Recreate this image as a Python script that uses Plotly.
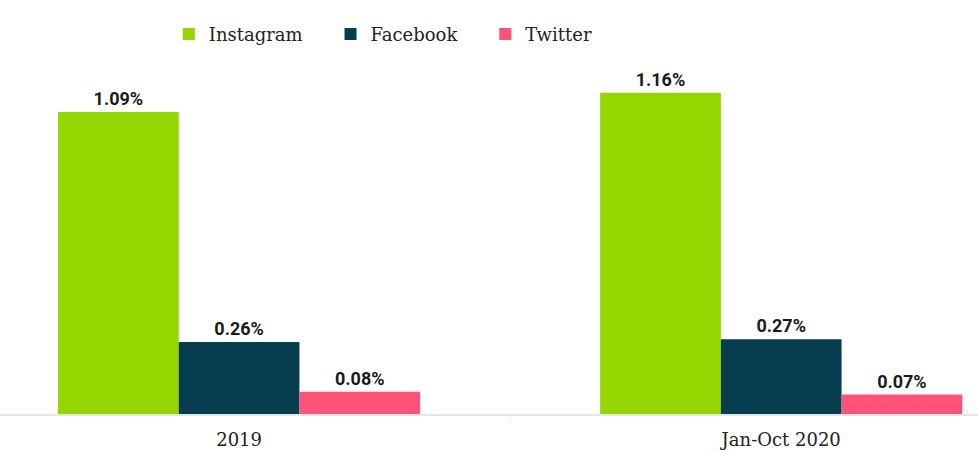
import plotly.graph_objects as go

categories = ["2019", "Jan-Oct 2020"]
instagram = [1.09, 1.16]
facebook = [0.26, 0.27]
twitter = [0.08, 0.07]

series = [("Instagram", instagram, "#96D600"),
          ("Facebook", facebook, "#063D4F"),
          ("Twitter", twitter, "#FF5478")]

fig = go.Figure()
for name, vals, col in series:
    fig.add_trace(go.Bar(
        x=categories, y=vals, name=name + "\u00a0" * 4, marker_color=col, marker_line_width=0,
        texttemplate="%{y:.2f}%", textposition="outside", cliponaxis=False,
        textfont=dict(family="Roboto", size=18, color="#1a1a1a", weight="bold"),
    ))

fig.update_layout(
    width=978, height=450,
    margin=dict(l=0, r=0, t=60, b=36, autoexpand=False),
    paper_bgcolor="white", plot_bgcolor="white",
    barmode="group", bargap=0.332, bargroupgap=0,
    legend=dict(orientation="h", x=0.1726, xanchor="left", yref="container",
                y=0.924, yanchor="middle",
                font=dict(family="DejaVu Serif", size=18, color="#222"),
                itemwidth=30),
    xaxis=dict(range=[-0.441, 1.363], showline=True, linecolor="#e6e6e6", linewidth=2,
               ticks="outside", tickson="boundaries", ticklen=4, tickcolor="#eeeeee",
               ticklabelstandoff=8, automargin=False,
               tickfont=dict(family="DejaVu Serif", size=18, color="#222"),
               showgrid=False),
    yaxis=dict(range=[0, 1.278], visible=False, showgrid=False, automargin=False),
    showlegend=True,
)
fig.write_html("out.html")
